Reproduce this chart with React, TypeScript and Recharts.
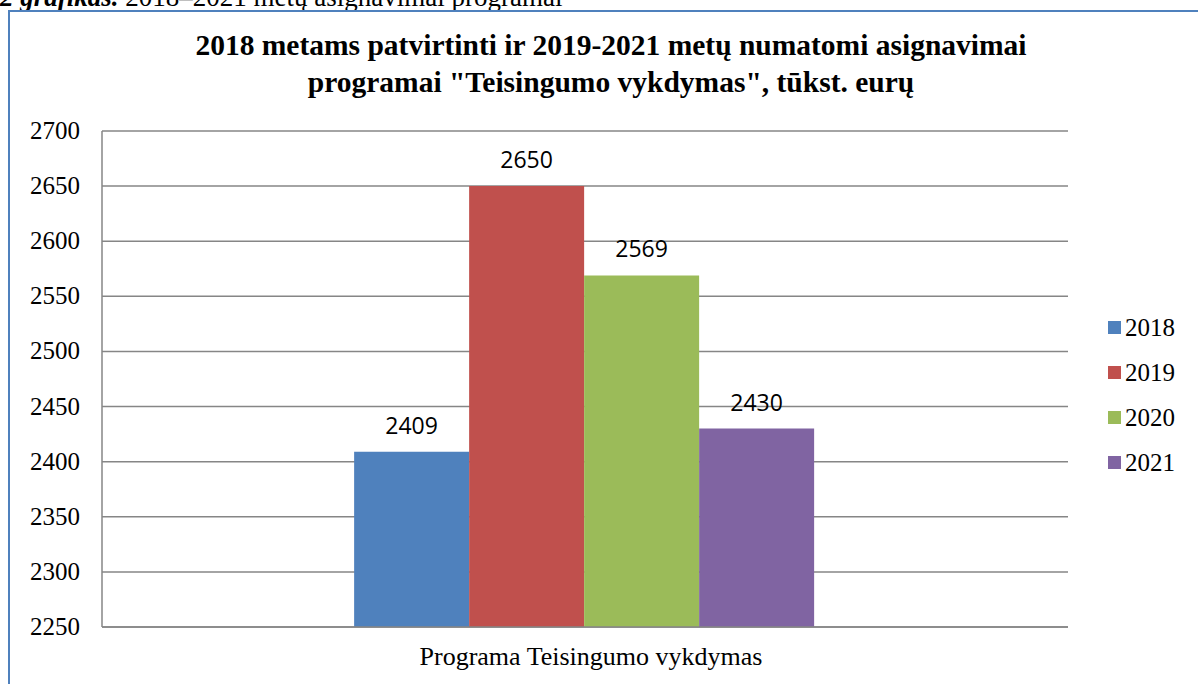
import { Bar, BarChart, CartesianGrid, LabelList, Legend, XAxis, YAxis } from 'recharts'

const categories = ['Programa Teisingumo vykdymas']
const years = ['2018', '2019', '2020', '2021']
const values = [2409, 2650, 2569, 2430]
const colors = ['#4f81bd', '#c0504d', '#9bbb59', '#8064a2']
const yTicks = [2250, 2300, 2350, 2400, 2450, 2500, 2550, 2600, 2650, 2700]

const rows = categories.map((name) => {
  const row: Record<string, string | number> = { name }
  years.forEach((y, i) => {
    row[y] = values[i]
  })
  return row
})

const serif = 'Liberation Serif, Times New Roman, serif'

function YTick({ x, y, payload }: any) {
  return (
    <text x={x} y={y} dy={8} textAnchor="end" style={{ fontFamily: serif, fontSize: 25, fill: '#000' }}>
      {payload.value}
    </text>
  )
}

function XTick({ x, y, payload }: any) {
  return (
    <text x={x} y={y} dx={6} dy={22} textAnchor="middle" style={{ fontFamily: serif, fontSize: 26, fill: '#000' }}>
      {payload.value}
    </text>
  )
}

function LegendList({ payload }: { payload?: { value: string; color: string }[] }) {
  return (
    <div>
      {(payload ?? []).map((p) => (
        <div key={p.value} style={{ display: 'flex', alignItems: 'center', height: 45 }}>
          <span style={{ width: 13, height: 13, background: p.color, marginRight: 4 }} />
          <span style={{ fontFamily: serif, fontSize: 25, color: '#000' }}>{p.value}</span>
        </div>
      ))}
    </div>
  )
}

export default function App() {
  return (
    <div style={{ position: 'absolute', left: 0, top: 0, width: 1198, height: 684, overflow: 'hidden', background: '#fff' }}>
      {/* caption of the figure, mostly cut off above the frame */}
      <div
        style={{
          position: 'absolute',
          left: 0,
          top: -16,
          fontFamily: serif,
          fontSize: 27,
          lineHeight: '26px',
          whiteSpace: 'nowrap',
          color: '#000',
        }}
      >
        <b>
          <i>2 grafikas.</i>
        </b>{' '}
        2018–2021 metų asignavimai programai
      </div>
      <div
        style={{
          position: 'absolute',
          left: 8,
          top: 10,
          width: 1220,
          height: 700,
          border: '2px solid #4f81bd',
          boxSizing: 'border-box',
        }}
      />
      <div
        style={{
          position: 'absolute',
          left: 611,
          top: 27,
          transform: 'translateX(-50%)',
          fontFamily: serif,
          fontWeight: 'bold',
          fontSize: 29.5,
          lineHeight: '37px',
          textAlign: 'center',
          whiteSpace: 'nowrap',
          color: '#000',
        }}
      >
        2018 metams patvirtinti ir 2019-2021 metų numatomi asignavimai
        <br />
        programai "Teisingumo vykdymas", tūkst. eurų
      </div>
      <div style={{ position: 'absolute', left: 0, top: 0 }}>
        <BarChart
          width={1198}
          height={684}
          data={rows}
          margin={{ top: 131, right: 40, left: 22, bottom: 17 }}
          barCategoryGap="26.1%"
          barGap={0}
        >
          <CartesianGrid stroke="#868686" strokeWidth={1.5} vertical={false} />
          <XAxis
            dataKey="name"
            height={40}
            axisLine={{ stroke: '#868686', strokeWidth: 1.5 }}
            tickLine={false}
            tickSize={0}
            tickMargin={16}
            tick={<XTick />}
          />
          <YAxis
            width={80}
            domain={[2250, 2700]}
            ticks={yTicks}
            interval={0}
            axisLine={{ stroke: '#868686', strokeWidth: 1.5 }}
            tickLine={false}
            tickSize={0}
            tickMargin={22}
            tick={<YTick />}
          />
          <Legend
            layout="vertical"
            align="right"
            verticalAlign="top"
            wrapperStyle={{ left: 1108, top: 305, width: 90 }}
            content={(props: any) => <LegendList payload={props.payload} />}
          />
          {years.map((y, i) => (
            <Bar key={y} dataKey={y} fill={colors[i]} isAnimationActive={false}>
              <LabelList
                dataKey={y}
                position="top"
                offset={18}
                style={{ fill: '#000', fontSize: 23, fontFamily: 'Open Sans, Noto Sans, sans-serif' }}
              />
            </Bar>
          ))}
        </BarChart>
      </div>
    </div>
  )
}
